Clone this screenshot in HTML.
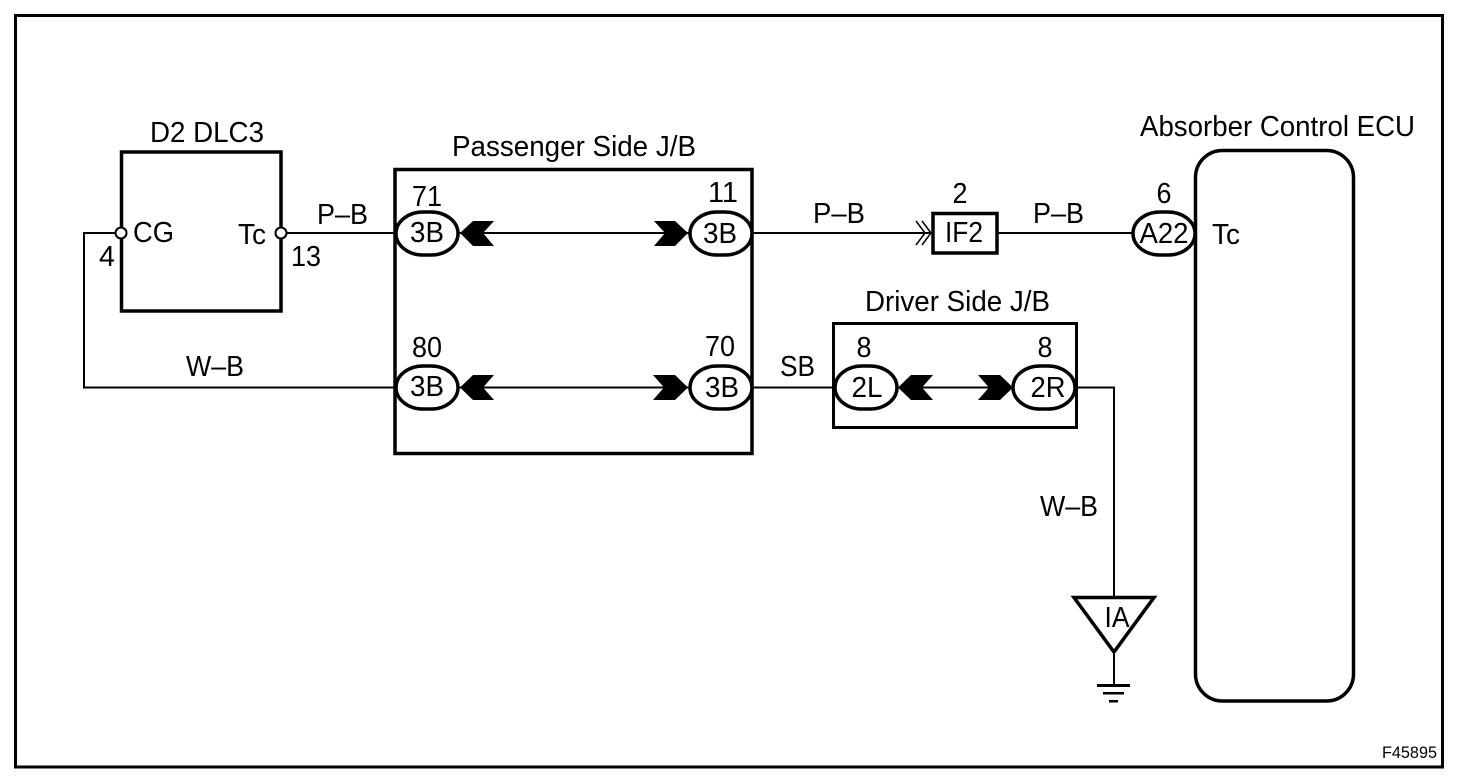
<!DOCTYPE html>
<html>
<head>
<meta charset="utf-8">
<style>
html,body{margin:0;padding:0;background:#fff;width:1472px;height:784px;overflow:hidden}
svg{display:block}
text{font-family:"Liberation Sans",Arial,sans-serif;font-size:29px;fill:#000}
.m{text-anchor:middle}
.l{fill:none;stroke:#000;stroke-width:2}
.o{fill:#fff;stroke:#000;stroke-width:3.5}
</style>
</head>
<body>
<svg width="1472" height="784" viewBox="0 0 1472 784" xmlns="http://www.w3.org/2000/svg">
<rect x="0" y="0" width="1472" height="784" fill="#fff"/>
<rect x="15.5" y="15.5" width="1427" height="751.5" fill="none" stroke="#000" stroke-width="3"/>

<!-- wires -->
<path class="l" d="M121 233H84V387.500H395"/>
<path class="l" d="M281 233H395"/>
<path class="l" d="M459 233H689"/>
<path class="l" d="M459 387.500H689"/>
<path class="l" d="M752 233H932"/>
<path class="l" d="M752 387.500H834"/>
<path class="l" d="M898 387.500H1012"/>
<path class="l" d="M997 233H1132"/>
<path class="l" d="M1076 387.500H1114V597"/>
<path class="l" d="M1114 653V685"/>

<!-- boxes -->
<rect x="121.500" y="152" width="159.500" height="159" fill="none" stroke="#000" stroke-width="3.500"/>
<rect x="395" y="169.500" width="357" height="284" fill="none" stroke="#000" stroke-width="3.500"/>
<rect x="833.500" y="323.500" width="243" height="104" fill="none" stroke="#000" stroke-width="3"/>
<rect x="933" y="213.500" width="64" height="39.500" fill="#fff" stroke="#000" stroke-width="3.500"/>
<rect x="1195.500" y="150.500" width="158" height="550.500" rx="27" ry="27" fill="#fff" stroke="#000" stroke-width="3.500"/>

<!-- terminals -->
<circle cx="121" cy="233" r="5.500" fill="#fff" stroke="#000" stroke-width="2"/>
<circle cx="281" cy="233" r="5.500" fill="#fff" stroke="#000" stroke-width="2"/>

<!-- connectors -->
<rect class="o" x="396" y="212" width="62" height="43" rx="27" ry="21.500"/>
<rect class="o" x="690" y="212" width="62" height="43" rx="27" ry="21.500"/>
<rect class="o" x="396" y="366" width="62" height="43" rx="27" ry="21.500"/>
<rect class="o" x="690" y="366" width="62" height="43" rx="27" ry="21.500"/>
<rect class="o" x="835" y="366" width="62" height="43" rx="27" ry="21.500"/>
<rect class="o" x="1013" y="366" width="62" height="43" rx="27" ry="21.500"/>
<rect class="o" x="1133" y="212" width="62" height="43" rx="27" ry="21.500"/>

<!-- chevrons -->
<path d="M460 233L473 221H494L483 233L494 246H473Z"/>
<path d="M654 221H675L688 233L675 246H654L665 233Z"/>
<path d="M460 387.500L473 375H494L483 387.500L494 400H473Z"/>
<path d="M653 375H675L688 387.500L675 400H653L664 387.500Z"/>
<path d="M898 387.500L911 375H933L922 387.500L933 400H911Z"/>
<path d="M978 375H1000L1013 387.500L1000 400H978L989 387.500Z"/>
<path class="l" style="stroke-width:1.500" d="M916 221L925 233L916 245M922 221L931 233L922 245"/>

<!-- ground -->
<path d="M1074 597.500H1154L1114 652Z" fill="#fff" stroke="#000" stroke-width="3.500"/>
<rect x="1097" y="684" width="33" height="3"/>
<rect x="1103" y="692" width="21" height="2.500"/>
<rect x="1109" y="700" width="9" height="2.500"/>

<!-- labels -->
<text x="150" y="142" textLength="114" lengthAdjust="spacingAndGlyphs">D2 DLC3</text>
<text x="452" y="156" textLength="244" lengthAdjust="spacingAndGlyphs">Passenger Side J/B</text>
<text x="865" y="311" textLength="185" lengthAdjust="spacingAndGlyphs">Driver Side J/B</text>
<text x="1140" y="136" textLength="275" lengthAdjust="spacingAndGlyphs">Absorber Control ECU</text>
<text x="133" y="242" textLength="41" lengthAdjust="spacingAndGlyphs">CG</text>
<text x="238" y="244" textLength="28" lengthAdjust="spacingAndGlyphs">Tc</text>
<text x="99" y="266" textLength="16" lengthAdjust="spacingAndGlyphs">4</text>
<text x="291" y="266" textLength="30" lengthAdjust="spacingAndGlyphs">13</text>
<text x="317" y="224" textLength="51" lengthAdjust="spacingAndGlyphs">P–B</text>
<text x="186" y="376" textLength="58" lengthAdjust="spacingAndGlyphs">W–B</text>
<text x="813" y="223" textLength="52" lengthAdjust="spacingAndGlyphs">P–B</text>
<text x="1033" y="223" textLength="51" lengthAdjust="spacingAndGlyphs">P–B</text>
<text x="780" y="376" textLength="35" lengthAdjust="spacingAndGlyphs">SB</text>
<text x="1040" y="516" textLength="58" lengthAdjust="spacingAndGlyphs">W–B</text>
<text class="m" x="427" y="206" textLength="30" lengthAdjust="spacingAndGlyphs">71</text>
<text class="m" x="723" y="202" textLength="30" lengthAdjust="spacingAndGlyphs">11</text>
<text class="m" x="427" y="357" textLength="30" lengthAdjust="spacingAndGlyphs">80</text>
<text class="m" x="720" y="356" textLength="30" lengthAdjust="spacingAndGlyphs">70</text>
<text class="m" x="960" y="203" textLength="15" lengthAdjust="spacingAndGlyphs">2</text>
<text class="m" x="1164" y="203" textLength="15" lengthAdjust="spacingAndGlyphs">6</text>
<text class="m" x="864" y="357" textLength="15" lengthAdjust="spacingAndGlyphs">8</text>
<text class="m" x="1045" y="357" textLength="15" lengthAdjust="spacingAndGlyphs">8</text>
<text class="m" x="427" y="242" textLength="34" lengthAdjust="spacingAndGlyphs">3B</text>
<text class="m" x="720" y="243" textLength="34" lengthAdjust="spacingAndGlyphs">3B</text>
<text class="m" x="427" y="396" textLength="34" lengthAdjust="spacingAndGlyphs">3B</text>
<text class="m" x="722" y="397" textLength="34" lengthAdjust="spacingAndGlyphs">3B</text>
<text class="m" x="867" y="397" textLength="31" lengthAdjust="spacingAndGlyphs">2L</text>
<text class="m" x="1048" y="397" textLength="35" lengthAdjust="spacingAndGlyphs">2R</text>
<text class="m" x="964" y="242" textLength="38" lengthAdjust="spacingAndGlyphs">IF2</text>
<text class="m" x="1164" y="243" textLength="49" lengthAdjust="spacingAndGlyphs">A22</text>
<text x="1212" y="244" textLength="28" lengthAdjust="spacingAndGlyphs">Tc</text>
<text class="m" x="1117" y="627" textLength="25" lengthAdjust="spacingAndGlyphs">IA</text>
<text x="1382" y="758" textLength="55" lengthAdjust="spacingAndGlyphs" style="font-size:17px">F45895</text>
</svg>
</body>
</html>
